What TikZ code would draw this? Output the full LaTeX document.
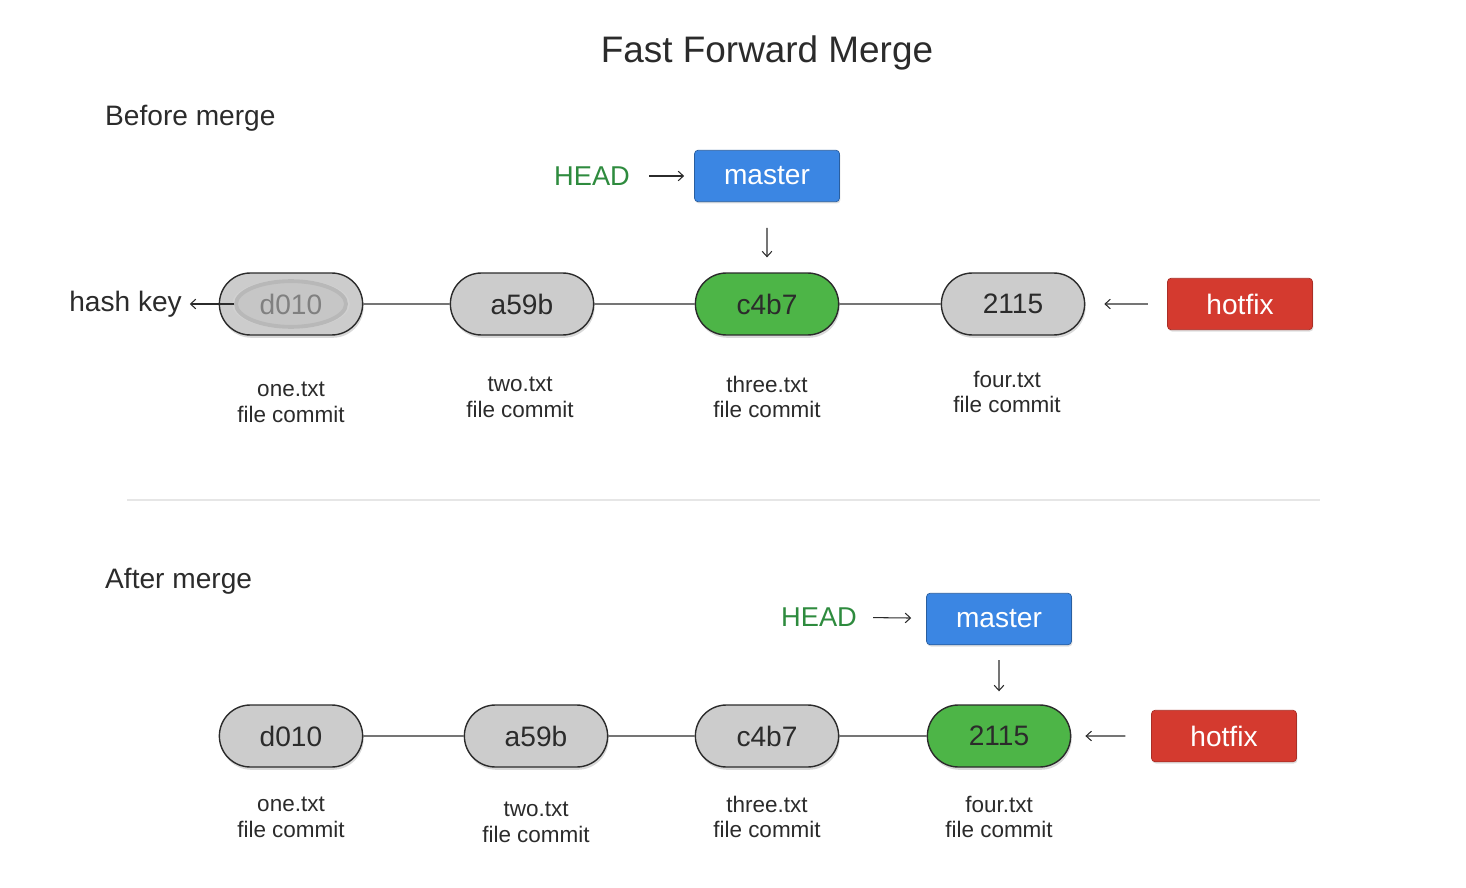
\documentclass[tikz,border=0pt]{standalone}
\usepackage{fontspec}
\setmainfont{Liberation Sans}
\usepackage{xcolor}
\usepackage{tikz}
\usetikzlibrary{positioning, arrows.meta, shapes.misc, shapes.geometric, shadows}
\definecolor{git-gray}{HTML}{CCCCCC}
\definecolor{git-dark}{HTML}{2B2B2B}
\definecolor{git-green}{HTML}{4DB547}
\definecolor{git-head}{HTML}{2E8B3E}
\definecolor{git-blue}{HTML}{3B86E3}
\definecolor{git-red}{HTML}{D43A2F}
\definecolor{git-rule}{HTML}{E6E6E6}

\begin{document}
\begin{tikzpicture}[x=0.02cm, y=-0.02cm,
    commit/.style={draw=git-dark, rounded rectangle, line width=0.8pt,
                   minimum width=3.1cm, minimum height=1.24cm, fill=git-gray,
                   text=git-dark, font=\fontsize{16}{19}\selectfont,
                   drop shadow={shadow xshift=0.6pt, shadow yshift=-1.6pt, opacity=0.3}},
    glow/.style={ellipse, draw=black!28, line width=2.2pt, fill=git-gray!97!black,
                 minimum width=2.2cm, minimum height=0.84cm, text=black!50,
                 font=\fontsize{16}{19}\selectfont},
    branch/.style={rectangle, rounded corners=2pt, minimum width=2.9cm,
                   minimum height=1.03cm, text=white, font=\fontsize{16}{19}\selectfont,
                   drop shadow={shadow xshift=0.5pt, shadow yshift=-1pt, opacity=0.25}},
    lbl/.style={align=center, font=\fontsize{12.8}{14.7}\selectfont, text=git-dark},
    head/.style={font=\fontsize{15.5}{18}\selectfont, text=git-head},
    arr/.style={-{Straight Barb[length=3pt, width=5.5pt]}, line width=0.6pt, git-dark},
    link/.style={git-dark, line width=0.6pt},
]
    \useasboundingbox (0,0) rectangle (1466,888);

    % Title and sections
    \node[font=\fontsize{21}{25}\selectfont, text=git-dark] (title) at (767,53) {Fast Forward Merge};
    \node[font=\fontsize{16}{19}\selectfont, text=git-dark, anchor=west] (before) at (99,118) {Before merge};
    \node[font=\fontsize{16}{19}\selectfont, text=git-dark, anchor=west] (after) at (99,581) {After merge};
    \draw[git-rule, line width=0.8pt] (127,500) -- (1320,500);

    % Before merge: commits
    \node[commit] (b1) at (291,304) {};
    \node[draw=black!18, ellipse, line width=3.2pt, minimum width=2.24cm, minimum height=0.88cm] (b1halo) at (b1) {};
    \node[glow] (b1key) at (b1) {d010};
    \node[commit] (b2) at (522,304) {a59b};
    \node[commit, fill=git-green] (b3) at (767,304) {c4b7};
    \node[commit] (b4) at (1013,304) {2115};

    \draw[link] (b1) -- (b2);
    \draw[link] (b2) -- (b3);
    \draw[link] (b3) -- (b4);

    \node[lbl] (b1lbl) at (291,402) {one.txt\\file commit};
    \node[lbl] (b2lbl) at (520,397) {two.txt\\file commit};
    \node[lbl] (b3lbl) at (767,397) {three.txt\\file commit};
    \node[lbl] (b4lbl) at (1007,392) {four.txt\\file commit};

    % Before merge: pointers
    \node[font=\fontsize{16}{19}\selectfont, text=git-dark, anchor=east] (hashkey) at (188,304) {hash key};
    \draw[arr, shorten >=1pt] (b1key.west) -- (hashkey.east);

    \node[head] (bhead) at (592,176) {HEAD};
    \node[branch, fill=git-blue, draw=git-blue!70!black] (bmaster) at (767,176) {master};
    \node[branch, fill=git-red, draw=git-red!80!black] (bhotfix) at (1240,304) {hotfix};

    \draw[arr, shorten <=7.5pt, shorten >=5.7pt] (bhead) -- (bmaster);
    \draw[arr, shorten <=14.7pt, shorten >=8.5pt] (bmaster) -- (b3);
    \draw[arr, shorten <=11pt, shorten >=10.8pt] (bhotfix) -- (b4);

    % After merge: commits
    \node[commit] (a1) at (291,736) {d010};
    \node[commit] (a2) at (536,736) {a59b};
    \node[commit] (a3) at (767,736) {c4b7};
    \node[commit, fill=git-green] (a4) at (999,736) {2115};

    \draw[link] (a1) -- (a2);
    \draw[link] (a2) -- (a3);
    \draw[link] (a3) -- (a4);

    \node[lbl] (a1lbl) at (291,817) {one.txt\\file commit};
    \node[lbl] (a2lbl) at (536,822) {two.txt\\file commit};
    \node[lbl] (a3lbl) at (767,817) {three.txt\\file commit};
    \node[lbl] (a4lbl) at (999,817) {four.txt\\file commit};

    % After merge: pointers
    \node[head] (ahead) at (819,617) {HEAD};
    \node[branch, fill=git-blue, draw=git-blue!70!black] (amaster) at (999,619) {master};
    \node[branch, fill=git-red, draw=git-red!80!black] (ahotfix) at (1224,736) {hotfix};

    \draw[arr, shorten <=5.7pt, shorten >=8.5pt] (ahead) -- (amaster);
    \draw[arr, shorten <=8.5pt, shorten >=7.4pt] (amaster) -- (a4);
    \draw[arr, shorten <=14.7pt, shorten >=8pt] (ahotfix) -- (a4);
\end{tikzpicture}
\end{document}
